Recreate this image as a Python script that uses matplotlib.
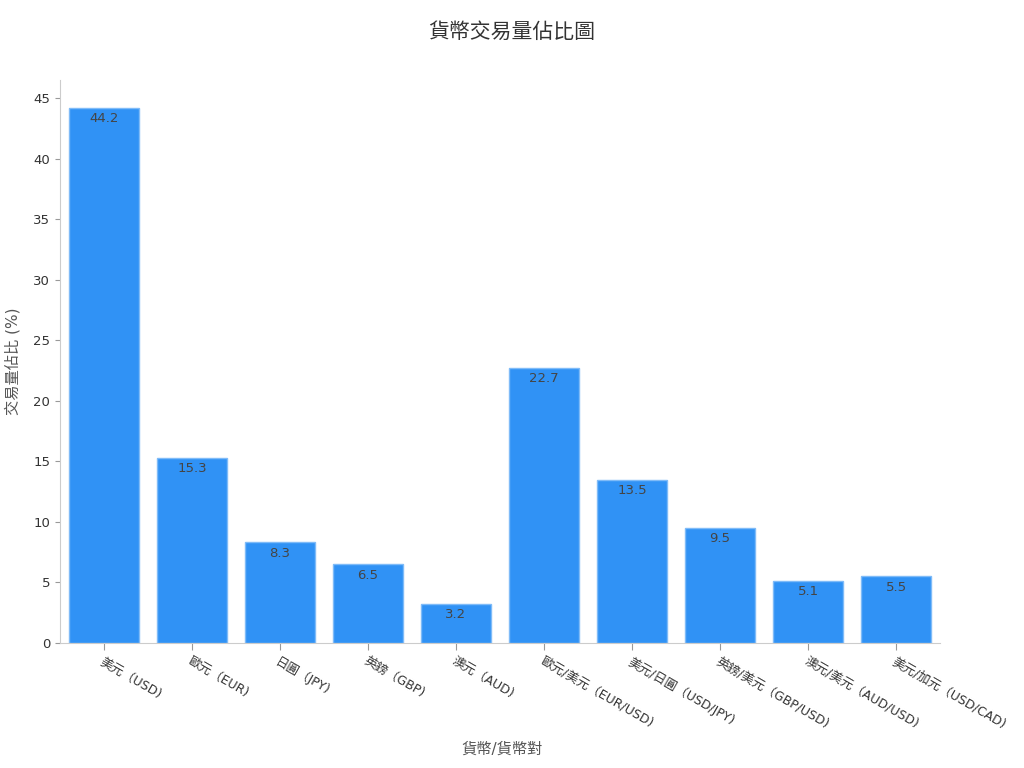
import numpy as np
import matplotlib.pyplot as plt

plt.rcParams['font.family'] = ['DejaVu Sans', 'Noto Sans CJK TC']

# 통화 / 통화쌍 이름과 거래량 비율
categories = ['美元（USD)', '歐元（EUR)', '日圓（JPY)', '英鎊（GBP)', '澳元（AUD)',
              '歐元/美元（EUR/USD)', '美元/日圓（USD/JPY)', '英鎊/美元（GBP/USD)',
              '澳元/美元（AUD/USD)', '美元/加元（USD/CAD)']
values = [44.2, 15.3, 8.3, 6.5, 3.2, 22.7, 13.5, 9.5, 5.1, 5.5]

fig = plt.figure(figsize=(10.24, 7.68), dpi=100)
ax = fig.add_axes([0.0586, 0.1628, 0.8594, 0.733])

x = np.arange(len(categories))
bars = ax.bar(x, values, width=0.8, color='#3092F5', edgecolor='#7FBBF8', linewidth=1)

# 막대 안쪽 위에 값 표시
for b, v in zip(bars, values):
    ax.text(b.get_x() + b.get_width() / 2, v - 0.35, f'{v}', ha='center', va='top',
            fontsize=9.5, color='#444444')

ax.set_xlim(-0.5, 9.5)
ax.set_ylim(0, 46.5)
ax.set_yticks(range(0, 50, 5))
ax.set_xticks(x)
ax.set_xticklabels(categories, rotation=-30, ha='left', rotation_mode='anchor',
                   fontsize=9, color='#333333')
ax.tick_params(axis='y', labelsize=9.5, labelcolor='#333333', color='#999999')
ax.tick_params(axis='x', color='#999999', length=5)

ax.spines['right'].set_visible(False)
ax.spines['top'].set_visible(False)
ax.spines['left'].set_color('#cccccc')
ax.spines['bottom'].set_color('#cccccc')

fig.text(0.5, 0.958, '貨幣交易量佔比圖', ha='center', va='center', fontsize=15, color='#333333')
fig.text(0.49, 0.025, '貨幣/貨幣對', ha='center', va='center', fontsize=11, color='#555555')
fig.text(0.012, 0.53, '交易量佔比 (%)', ha='center', va='center', rotation=90,
         fontsize=11, color='#555555')

fig.savefig('out.png', dpi=100)
